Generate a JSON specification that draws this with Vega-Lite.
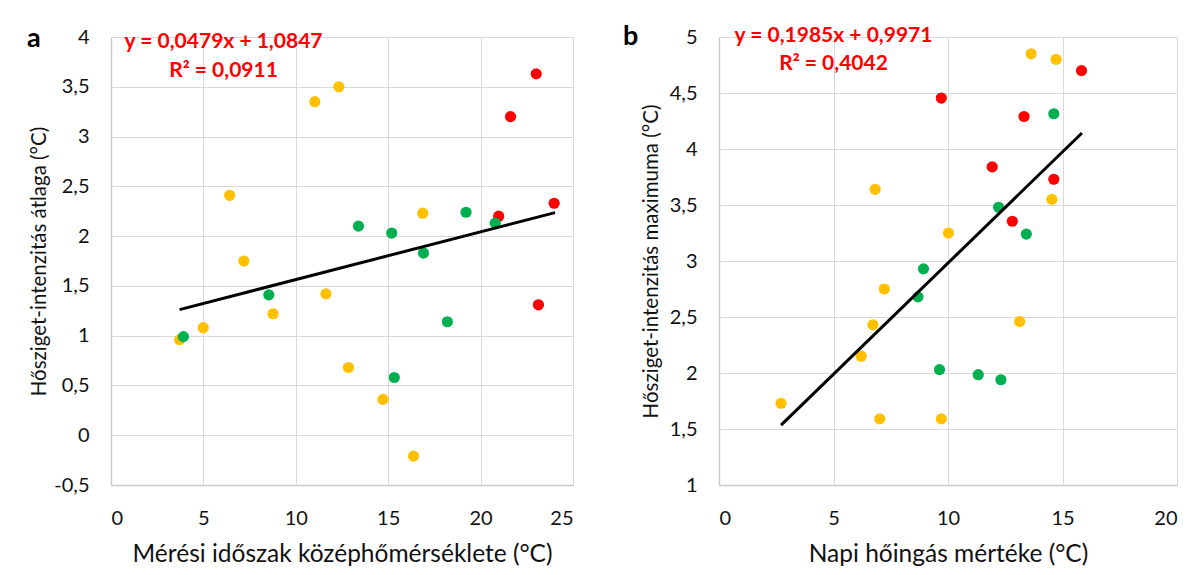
{
  "$schema": "https://vega.github.io/schema/vega-lite/v6.json",
  "background": "white",
  "padding": {"left": 27, "top": 22, "right": 5, "bottom": 5},
  "spacing": 50,
  "datasets": {
    "pa": [
      {"x": 6.42, "y": 2.41, "group": "yellow"},
      {"x": 7.19, "y": 1.75, "group": "yellow"},
      {"x": 11.03, "y": 3.35, "group": "yellow"},
      {"x": 12.33, "y": 3.5, "group": "yellow"},
      {"x": 16.87, "y": 2.23, "group": "yellow"},
      {"x": 11.63, "y": 1.42, "group": "yellow"},
      {"x": 8.77, "y": 1.22, "group": "yellow"},
      {"x": 4.99, "y": 1.08, "group": "yellow"},
      {"x": 3.71, "y": 0.96, "group": "yellow"},
      {"x": 12.85, "y": 0.68, "group": "yellow"},
      {"x": 14.72, "y": 0.36, "group": "yellow"},
      {"x": 16.37, "y": -0.21, "group": "yellow"},
      {"x": 23.01, "y": 3.63, "group": "red"},
      {"x": 21.62, "y": 3.2, "group": "red"},
      {"x": 23.98, "y": 2.33, "group": "red"},
      {"x": 20.98, "y": 2.2, "group": "red"},
      {"x": 23.13, "y": 1.31, "group": "red"},
      {"x": 20.79, "y": 2.13, "group": "green"},
      {"x": 19.21, "y": 2.24, "group": "green"},
      {"x": 13.39, "y": 2.1, "group": "green"},
      {"x": 15.19, "y": 2.03, "group": "green"},
      {"x": 16.91, "y": 1.83, "group": "green"},
      {"x": 8.54, "y": 1.41, "group": "green"},
      {"x": 18.2, "y": 1.14, "group": "green"},
      {"x": 3.92, "y": 0.99, "group": "green"},
      {"x": 15.33, "y": 0.58, "group": "green"}
    ],
    "pb": [
      {"x": 13.63, "y": 4.85, "group": "yellow"},
      {"x": 14.72, "y": 4.8, "group": "yellow"},
      {"x": 6.82, "y": 3.64, "group": "yellow"},
      {"x": 14.54, "y": 3.55, "group": "yellow"},
      {"x": 10.02, "y": 3.25, "group": "yellow"},
      {"x": 7.22, "y": 2.75, "group": "yellow"},
      {"x": 6.72, "y": 2.43, "group": "yellow"},
      {"x": 13.13, "y": 2.46, "group": "yellow"},
      {"x": 6.21, "y": 2.15, "group": "yellow"},
      {"x": 2.71, "y": 1.73, "group": "yellow"},
      {"x": 7.02, "y": 1.59, "group": "yellow"},
      {"x": 9.71, "y": 1.59, "group": "yellow"},
      {"x": 15.83, "y": 4.7, "group": "red"},
      {"x": 9.71, "y": 4.455, "group": "red"},
      {"x": 13.32, "y": 4.29, "group": "red"},
      {"x": 11.93, "y": 3.84, "group": "red"},
      {"x": 14.62, "y": 3.73, "group": "red"},
      {"x": 12.81, "y": 3.355, "group": "red"},
      {"x": 14.62, "y": 4.315, "group": "green"},
      {"x": 12.21, "y": 3.48, "group": "green"},
      {"x": 13.42, "y": 3.24, "group": "green"},
      {"x": 8.93, "y": 2.93, "group": "green"},
      {"x": 8.69, "y": 2.68, "group": "green"},
      {"x": 9.63, "y": 2.03, "group": "green"},
      {"x": 11.32, "y": 1.985, "group": "green"},
      {"x": 12.31, "y": 1.94, "group": "green"}
    ],
    "la": [{"x": 3.71, "y": 1.262}, {"x": 24.03, "y": 2.236}],
    "lb": [{"x": 2.71, "y": 1.535}, {"x": 15.85, "y": 4.143}],
    "ta": [{"x": 6.09, "y": 3.95, "label": "y = 0,0479x + 1,0847"}, {"x": 6.09, "y": 3.66, "label": "R² = 0,0911"}],
    "tb": [{"x": 5.0, "y": 5.01, "label": "y = 0,1985x + 0,9971"}, {"x": 5.0, "y": 4.76, "label": "R² = 0,4042"}]
  },
  "config": {
    "font": "Lato",
    "view": {"stroke": null},
    "axis": {
      "grid": true,
      "gridColor": "#D9D9D9",
      "gridWidth": 1,
      "domainColor": "#C9C9C9",
      "domainWidth": 1.5,
      "ticks": false,
      "labelFont": "Lato",
      "labelFontSize": 20,
      "labelColor": "#111111",
      "labelPadding": 22,
      "titleFont": "Lato",
      "titleFontWeight": "normal",
      "titleColor": "#111111"
    },
    "axisX": {"titleFontSize": 24.5, "titlePadding": 14, "labelPadding": 23},
    "axisY": {"titleFontSize": 20.5, "titlePadding": 4}
  },
  "hconcat": [
    {
      "width": 462,
      "height": 448,
      "title": {"text": "a", "anchor": "start", "frame": "group", "dx": -84, "dy": 30, "fontSize": 27, "fontWeight": "bold", "color": "black", "font": "Lato"},
      "layer": [
        {
          "data": {"name": "pa"},
          "mark": {"type": "circle", "size": 125, "opacity": 1},
          "encoding": {
            "x": {"field": "x", "type": "quantitative", "scale": {"domain": [0, 25], "nice": false, "zero": false},
              "axis": {"values": [0, 5, 10, 15, 20, 25], "title": "Mérési időszak középhőmérséklete (°C)", "labelExpr": "replace(datum.value + '', '.', ',')"}},
            "y": {"field": "y", "type": "quantitative", "scale": {"domain": [-0.5, 4], "nice": false, "zero": false},
              "axis": {"values": [-0.5, 0, 0.5, 1, 1.5, 2, 2.5, 3, 3.5, 4], "title": "Hősziget-intenzitás átlaga (°C)", "labelExpr": "replace(datum.value + '', '.', ',')"}},
            "color": {"field": "group", "type": "nominal", "scale": {"domain": ["yellow", "red", "green"], "range": ["#FFC000", "#FF0000", "#00B050"]}, "legend": null}
          }
        },
        {
          "data": {"name": "la"},
          "mark": {"type": "line", "color": "black", "strokeWidth": 3},
          "encoding": {"x": {"field": "x", "type": "quantitative"}, "y": {"field": "y", "type": "quantitative"}}
        },
        {
          "data": {"name": "ta"},
          "mark": {"type": "text", "color": "#FF0000", "fontWeight": "bold", "fontSize": 21, "font": "Lato", "align": "center", "baseline": "middle"},
          "encoding": {"x": {"field": "x", "type": "quantitative"}, "y": {"field": "y", "type": "quantitative"}, "text": {"field": "label"}}
        }
      ]
    },
    {
      "width": 458,
      "height": 448,
      "title": {"text": "b", "anchor": "start", "frame": "group", "dx": -96, "dy": 30, "fontSize": 27, "fontWeight": "bold", "color": "black", "font": "Lato"},
      "layer": [
        {
          "data": {"name": "pb"},
          "mark": {"type": "circle", "size": 125, "opacity": 1},
          "encoding": {
            "x": {"field": "x", "type": "quantitative", "scale": {"domain": [0, 20], "nice": false, "zero": false},
              "axis": {"values": [0, 5, 10, 15, 20], "title": "Napi hőingás mértéke (°C)", "labelExpr": "replace(datum.value + '', '.', ',')"}},
            "y": {"field": "y", "type": "quantitative", "scale": {"domain": [1, 5], "nice": false, "zero": false},
              "axis": {"values": [1, 1.5, 2, 2.5, 3, 3.5, 4, 4.5, 5], "title": "Hősziget-intenzitás maximuma (°C)", "titlePadding": 8, "labelExpr": "replace(datum.value + '', '.', ',')"}},
            "color": {"field": "group", "type": "nominal", "scale": {"domain": ["yellow", "red", "green"], "range": ["#FFC000", "#FF0000", "#00B050"]}, "legend": null}
          }
        },
        {
          "data": {"name": "lb"},
          "mark": {"type": "line", "color": "black", "strokeWidth": 3},
          "encoding": {"x": {"field": "x", "type": "quantitative"}, "y": {"field": "y", "type": "quantitative"}}
        },
        {
          "data": {"name": "tb"},
          "mark": {"type": "text", "color": "#FF0000", "fontWeight": "bold", "fontSize": 21, "font": "Lato", "align": "center", "baseline": "middle"},
          "encoding": {"x": {"field": "x", "type": "quantitative"}, "y": {"field": "y", "type": "quantitative"}, "text": {"field": "label"}}
        }
      ]
    }
  ]
}
